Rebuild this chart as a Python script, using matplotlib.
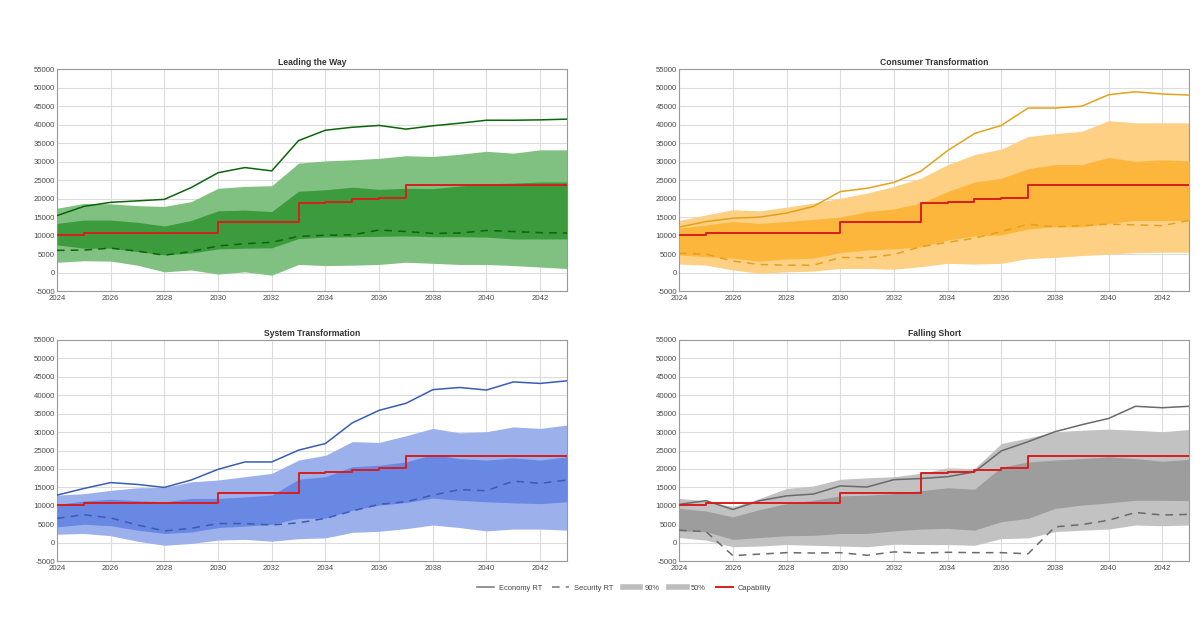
import numpy as np
import matplotlib
matplotlib.use('Agg')
from matplotlib import pyplot as plt
from matplotlib.lines import Line2D

plt.rcParams['font.family'] = ['Liberation Sans', 'DejaVu Sans']
plt.rcParams['axes.unicode_minus'] = False

years = np.arange(2024, 2044)

# capability step (same on every panel)
cap_years = [2024, 2025, 2030, 2033, 2034, 2035, 2036, 2037, 2043]
cap_values = [10300, 10700, 13600, 18800, 19200, 19800, 20200, 23600, 23600]

# Leading the Way
ltw_economy = [15400, 17900, 19000, 19400, 19800, 23000, 27000, 28400, 27500, 35700,
               38500, 39300, 39800, 38800, 39700, 40400, 41200, 41200, 41300, 41500]
ltw_security = [6000, 6100, 6600, 5800, 4700, 5700, 7200, 7800, 8200, 9800,
                10100, 10200, 11500, 11100, 10600, 10700, 11400, 11100, 10800, 10700]
ltw_p90_hi = [17400, 18700, 18600, 18100, 17900, 19200, 22800, 23300, 23500, 29600,
              30200, 30500, 30900, 31600, 31400, 32000, 32800, 32300, 33200, 33200]
ltw_p90_lo = [2800, 3200, 3100, 2000, 200, 700, -400, 200, -700, 2200,
              1900, 2000, 2200, 2800, 2500, 2200, 2200, 1900, 1500, 1100]
ltw_p50_hi = [13300, 14200, 14200, 13600, 12600, 14100, 16700, 16900, 16500, 22000,
              22400, 23100, 22500, 22800, 22700, 23400, 24000, 24200, 24500, 24500]
ltw_p50_lo = [7500, 6600, 6600, 5700, 4800, 5300, 6400, 6600, 6700, 9200,
              9600, 9700, 9800, 9900, 9700, 9700, 9600, 9100, 9100, 9100]

# Consumer Transformation
ct_economy = [12300, 13800, 14700, 15000, 16100, 17900, 21900, 22800, 24400, 27400,
              33000, 37600, 39800, 44500, 44500, 45000, 48100, 48900, 48300, 48000]
ct_security = [5200, 5000, 3100, 2200, 2000, 2000, 4100, 4000, 4900, 7000,
               8200, 9300, 11100, 13100, 12400, 12700, 13100, 12900, 12700, 14100]
ct_p90_hi = [14100, 15600, 17000, 16700, 17700, 18800, 20100, 21500, 23300, 25500,
             29200, 31900, 33400, 36800, 37600, 38200, 41100, 40500, 40500, 40500]
ct_p90_lo = [2300, 2000, 700, -200, 200, 400, 1100, 1100, 900, 1600,
             2500, 2300, 2500, 3800, 4100, 4600, 5000, 5400, 5500, 5500]
ct_p50_hi = [12000, 12900, 13800, 13300, 13800, 14400, 15000, 16500, 17200, 18800,
             21900, 24500, 25500, 28100, 29200, 29200, 31100, 30100, 30500, 30200]
ct_p50_lo = [4800, 4300, 3900, 3100, 3700, 3900, 5400, 6100, 6400, 7000,
             8800, 9900, 10200, 11800, 12400, 12400, 13300, 14100, 14100, 14100]

# System Transformation
st_economy = [12900, 14700, 16300, 15800, 15000, 17000, 19900, 21900, 21900, 25100,
              26900, 32500, 35900, 37800, 41500, 42100, 41400, 43600, 43200, 43900]
st_security = [6600, 7600, 6700, 4800, 3200, 3900, 5200, 5200, 4800, 5400,
               6600, 8600, 10400, 11100, 12900, 14400, 14100, 16700, 16100, 17000]
st_p90_hi = [12900, 13300, 14200, 14900, 15000, 16500, 17000, 17900, 18800, 22400,
             23700, 27400, 27200, 29000, 31000, 29800, 30100, 31400, 31000, 31900]
st_p90_lo = [2300, 2500, 1900, 400, -700, -200, 700, 900, 400, 1100,
             1300, 2800, 3100, 3800, 4800, 4100, 3200, 3700, 3700, 3400]
st_p50_hi = [10400, 11300, 11800, 11400, 11100, 12000, 12000, 12400, 12900, 17200,
             17900, 20600, 21000, 21900, 23900, 22800, 22400, 23000, 22400, 23300]
st_p50_lo = [4300, 5000, 4600, 3400, 2500, 2900, 4100, 4500, 5000, 6600,
             6700, 8800, 10200, 10900, 12100, 11500, 11100, 10800, 10600, 11100]

# Falling Short
fs_economy = [10400, 11400, 9000, 11400, 12700, 13200, 15400, 15100, 17100, 17400,
              17900, 19200, 24900, 27400, 30100, 32000, 33700, 37000, 36600, 37000]
fs_security = [3400, 3000, -3500, -3100, -2700, -2800, -2700, -3400, -2500, -2800,
               -2600, -2700, -2700, -3000, 4300, 4900, 6100, 8200, 7500, 7700]
fs_p90_hi = [12000, 11400, 9700, 12000, 14700, 15400, 17200, 17600, 17900, 18800,
             20300, 20100, 26900, 28400, 30100, 30500, 30800, 30500, 30100, 30700]
fs_p90_lo = [1400, 700, -1100, -900, -500, -700, -900, -1100, -400, -500,
             -500, -700, 1100, 1300, 3000, 3400, 3700, 4800, 4600, 4800]
fs_p50_hi = [9300, 8600, 7000, 9000, 10600, 11500, 12700, 12900, 13300, 14100,
             14900, 14500, 20500, 21900, 22400, 22800, 23300, 22800, 22100, 22600]
fs_p50_lo = [3200, 3000, 900, 1400, 1900, 2000, 2500, 2500, 3200, 3700,
             3900, 3400, 5700, 6600, 9300, 10200, 10800, 11500, 11500, 11400]

panels = [
    ('Leading the Way', ltw_economy, ltw_security, ltw_p90_lo, ltw_p90_hi, ltw_p50_lo, ltw_p50_hi,
     ['#0b650b', '#80c080', '#3c9b3c']),
    ('Consumer Transformation', ct_economy, ct_security, ct_p90_lo, ct_p90_hi, ct_p50_lo, ct_p50_hi,
     ['#e3a21c', '#fdd084', '#fdb63c']),
    ('System Transformation', st_economy, st_security, st_p90_lo, st_p90_hi, st_p50_lo, st_p50_hi,
     ['#3a5cb5', '#9cb0ec', '#6888e4']),
    ('Falling Short', fs_economy, fs_security, fs_p90_lo, fs_p90_hi, fs_p50_lo, fs_p50_hi,
     ['#6a6a6a', '#c2c2c2', '#9d9d9d']),
]

positions = [
    [0.0475, 0.529, 0.425, 0.359],
    [0.566, 0.529, 0.425, 0.359],
    [0.0475, 0.092, 0.425, 0.358],
    [0.566, 0.092, 0.425, 0.358],
]

fig = plt.figure(figsize=(12, 6.18), dpi=100)

for pos, (title, eco, sec, lo90, hi90, lo50, hi50, cols) in zip(positions, panels):
    ax = fig.add_axes(pos)
    ax.fill_between(years, lo90, hi90, color=cols[1], lw=0, zorder=2)
    ax.fill_between(years, lo50, hi50, color=cols[2], lw=0, zorder=3)
    ax.plot(years, eco, color=cols[0], lw=1.1, zorder=4)
    ax.plot(years, sec, color=cols[0], lw=1.1, ls=(0, (5, 4)), zorder=4)
    ax.step(cap_years, cap_values, where='post', color='#d81e1e', lw=1.4, zorder=5)

    ax.set_xlim(2024, 2043)
    ax.set_ylim(-5000, 55000)
    ax.set_xticks(np.arange(2024, 2043, 2))
    ax.set_yticks(np.arange(-5000, 55001, 5000))
    ax.tick_params(length=0, labelsize=5.6, labelcolor='#4a4a4a')
    ax.tick_params(axis='x', pad=2.5)
    ax.tick_params(axis='y', pad=1.5)
    ax.grid(True, color='#dcdcdc', lw=0.8, zorder=1)
    ax.set_axisbelow(True)
    for sp in ax.spines.values():
        sp.set_color('#999999')
        sp.set_linewidth(0.8)
    ax.set_title(title, fontsize=6.2, fontweight='bold', color='#333333', pad=3)

handles = [
    Line2D([], [], color='#777777', lw=1.1),
    Line2D([], [], color='#777777', lw=1.1, ls=(0, (5, 4))),
    Line2D([], [], color='#bdbdbd', lw=4),
    Line2D([], [], color='#bdbdbd', lw=4),
    Line2D([], [], color='#d81e1e', lw=1.4),
]
labels = ['Economy RT', 'Security RT', '90%', '50%', 'Capability']
fig.legend(handles, labels, loc='center', bbox_to_anchor=(0.52, 0.048), ncol=5,
           frameon=False, fontsize=5.4, labelcolor='#444444', handlelength=2.3,
           columnspacing=1.3, handletextpad=0.6)

fig.savefig('out.png', dpi=100)
